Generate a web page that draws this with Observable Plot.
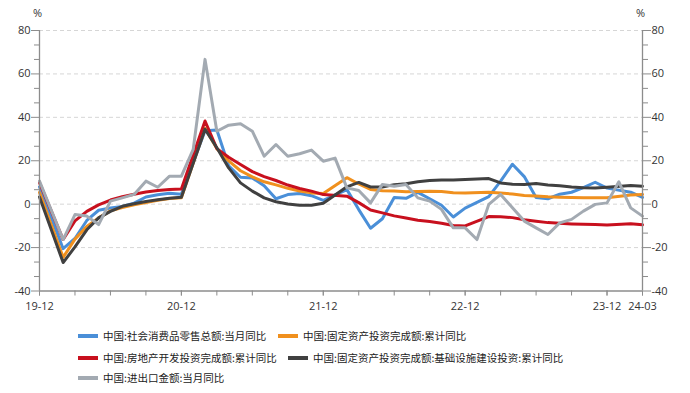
<!DOCTYPE html>
<html>
<head>
<meta charset="utf-8">
<script src="https://cdn.jsdelivr.net/npm/d3@7"></script>
<script src="https://cdn.jsdelivr.net/npm/@observablehq/plot@0.6"></script>
<style>
  html, body { margin: 0; padding: 0; background: #fff; }
  #wrap { position: relative; width: 690px; height: 393px; overflow: hidden; font-family: "Noto Sans CJK SC", "Noto Sans", sans-serif; color: #222; }
  .pct { position: absolute; top: 5px; font-size: 11px; font-family: "Open Sans", "Noto Sans", sans-serif; color: #333; }
  .leg { position: absolute; display: flex; align-items: center; font-size: 10.5px; white-space: nowrap; color: #222; }
  .leg .sw { display: inline-block; width: 20px; height: 4px; margin-right: 5px; }
</style>
</head>
<body>
<div id="wrap"></div>
<script>
// ---- data ----
const months = [
  "2019-12","2020-01","2020-02","2020-03","2020-04","2020-05","2020-06","2020-07","2020-08","2020-09","2020-10","2020-11","2020-12",
  "2021-01","2021-02","2021-03","2021-04","2021-05","2021-06","2021-07","2021-08","2021-09","2021-10","2021-11","2021-12",
  "2022-01","2022-02","2022-03","2022-04","2022-05","2022-06","2022-07","2022-08","2022-09","2022-10","2022-11","2022-12",
  "2023-01","2023-02","2023-03","2023-04","2023-05","2023-06","2023-07","2023-08","2023-09","2023-10","2023-11","2023-12",
  "2024-01","2024-02","2024-03"
];
const seriesNames = [
  "中国:社会消费品零售总额:当月同比",
  "中国:固定资产投资完成额:累计同比",
  "中国:房地产开发投资完成额:累计同比",
  "中国:固定资产投资完成额:基础设施建设投资:累计同比",
  "中国:进出口金额:当月同比"
];
const seriesColors = ["#4a8fd8", "#f0901e", "#c8101e", "#404040", "#a3aab2"];

const retail = [8.0, null, -20.5, -15.8, -7.5, -2.8, -1.8, -1.1, 0.5, 3.3, 4.3, 5.0, 4.6,
  null, 33.8, 34.2, 17.7, 12.4, 12.1, 8.5, 2.5, 4.4, 4.9, 3.9, 1.7,
  null, 6.7, -2.5, -11.1, -6.7, 3.1, 2.7, 5.4, 2.5, -0.5, -5.9, -1.8,
  null, 3.5, 10.6, 18.4, 12.7, 3.1, 2.5, 4.6, 5.5, 7.6, 10.1, 7.4,
  null, 5.5, 3.1];
const fai = [5.4, null, -24.5, -16.1, -10.3, -6.3, -3.1, -1.6, -0.3, 0.8, 1.8, 2.6, 2.9,
  null, 35.0, 25.6, 19.9, 15.4, 12.6, 10.3, 8.9, 7.3, 6.1, 5.2, 4.9,
  null, 12.2, 9.3, 6.8, 6.2, 6.1, 5.7, 5.8, 5.9, 5.8, 5.3, 5.1,
  null, 5.5, 5.1, 4.7, 4.0, 3.8, 3.4, 3.2, 3.1, 2.9, 2.9, 3.0,
  null, 4.2, 4.5];
const realEstate = [9.9, null, -16.3, -7.7, -3.3, -0.3, 1.9, 3.4, 4.6, 5.6, 6.3, 6.8, 7.0,
  null, 38.3, 25.6, 21.6, 18.3, 15.0, 12.7, 10.9, 8.8, 7.2, 6.0, 4.4,
  null, 3.7, 0.7, -2.7, -4.0, -5.4, -6.4, -7.4, -8.0, -8.8, -9.8, -10.0,
  null, -5.7, -5.8, -6.2, -7.2, -7.9, -8.5, -8.8, -9.1, -9.3, -9.4, -9.6,
  null, -9.0, -9.5];
const infra = [3.3, null, -26.9, -19.7, -11.8, -6.3, -3.3, -1.0, 0.2, 1.2, 2.0, 2.7, 3.2,
  null, 34.5, 26.0, 16.7, 9.8, 6.0, 2.9, 1.1, 0.1, -0.5, -0.5, 0.4,
  null, 8.0, 10.0, 7.9, 7.9, 9.0, 9.4, 10.3, 10.9, 11.1, 11.1, 11.4,
  null, 11.8, 9.8, 9.2, 9.1, 9.5, 8.8, 8.5, 7.9, 7.6, 7.5, 7.8,
  null, 8.6, 8.3];
const trade = [10.6, null, -16.3, -4.8, -5.5, -9.4, 1.4, 2.9, 4.5, 10.6, 7.8, 12.9, 12.9,
  25.2, 66.7, 33.6, 36.4, 37.0, 33.6, 22.1, 27.5, 22.1, 23.2, 24.9, 19.8,
  21.2, 7.5, 6.3, 0.6, 9.1, 8.3, 9.1, 2.9, 1.4, -2.4, -10.9, -10.9,
  -16.3, -0.1, 4.5, -1.7, -7.8, -10.9, -14.0, -8.6, -7.0, -3.2, -0.1, 0.6,
  10.3, -1.7, -5.5];

const xTickLabels = ["19-12", "20-12", "21-12", "22-12", "23-12", "24-03"];
const yMajor = [-40, -20, 0, 20, 40, 60, 80];

// ---- build ----
const monthIndex = s => { const [y, m] = s.split("-").map(Number); return (y - 2019) * 12 + (m - 12); };
const allSeries = [retail, fai, realEstate, infra, trade];
const rows = [];
allSeries.forEach((arr, si) => arr.forEach((v, i) => {
  if (v != null) rows.push({series: seriesNames[si], t: monthIndex(months[i]), v});
}));
const labelIdx = xTickLabels.map(l => monthIndex("20" + l));
const nMax = monthIndex(months[months.length - 1]);
const xTicks = d3.range(0, nMax + 1, 3);
const yMinor = d3.range(-40, 80.001, 20 / 3).map(v => Math.round(v * 1000) / 1000).filter(v => !yMajor.some(m => Math.abs(m - v) < 0.01));

const axisColor = "#8c8c8c";
const lineMarks = seriesNames.map((name, si) =>
  Plot.line(rows.filter(r => r.series === name), {x: "t", y: "v", stroke: seriesColors[si], strokeWidth: 3, strokeLinejoin: "round", strokeLinecap: "round"})
);

const chart = Plot.plot({
  width: 690, height: 315,
  marginTop: 30, marginBottom: 24.5, marginLeft: 39, marginRight: 48,
  x: {domain: [0, nMax], axis: null},
  y: {domain: [-40, 80], axis: null},
  style: {fontFamily: "'Open Sans', 'Noto Sans', sans-serif", fontSize: "11px", color: "#333", background: "white"},
  marks: [
    Plot.ruleY(yMajor.filter(v => v > -40), {stroke: "#d6d6d6", strokeDasharray: "4 3", strokeWidth: 1}),
    ...lineMarks,
    Plot.ruleX([0, nMax], {stroke: axisColor, strokeWidth: 1.3}),
    Plot.ruleY([-40], {stroke: axisColor, strokeWidth: 1.3}),
    Plot.axisY(yMinor, {anchor: "left", label: null, tickSize: 5, tickFormat: () => "", stroke: axisColor}),
    Plot.axisY(yMajor, {anchor: "left", label: null, tickSize: 8, tickPadding: 1, tickFormat: d => String(d), stroke: axisColor, fill: "#333"}),
    Plot.axisY(yMinor, {anchor: "right", label: null, tickSize: 5, tickFormat: () => "", stroke: axisColor}),
    Plot.axisY(yMajor, {anchor: "right", label: null, tickSize: 8, tickPadding: 1, tickFormat: d => String(d), stroke: axisColor, fill: "#333"}),
    Plot.axisX(xTicks, {anchor: "bottom", label: null, tickSize: 5, tickFormat: () => "", stroke: axisColor}),
    Plot.axisX(labelIdx, {anchor: "bottom", label: null, tickSize: 5, tickPadding: 6, tickFormat: d => xTickLabels[labelIdx.indexOf(d)], stroke: axisColor, fill: "#333"})
  ]
});

const wrap = document.getElementById("wrap");
wrap.appendChild(chart);

const pl = document.createElement("div"); pl.className = "pct"; pl.textContent = "%"; pl.style.left = "33px"; wrap.appendChild(pl);
const pr = document.createElement("div"); pr.className = "pct"; pr.textContent = "%"; pr.style.left = "636px"; wrap.appendChild(pr);

// legend
const legPos = [[78, 328], [278, 328], [78, 350], [288, 350], [78, 370]];
seriesNames.forEach((name, i) => {
  const d = document.createElement("div");
  d.className = "leg";
  d.style.left = legPos[i][0] + "px";
  d.style.top = legPos[i][1] + "px";
  const sw = document.createElement("span"); sw.className = "sw"; sw.style.background = seriesColors[i];
  const tx = document.createElement("span"); tx.textContent = name;
  d.appendChild(sw); d.appendChild(tx);
  wrap.appendChild(d);
});
</script>
</body>
</html>
